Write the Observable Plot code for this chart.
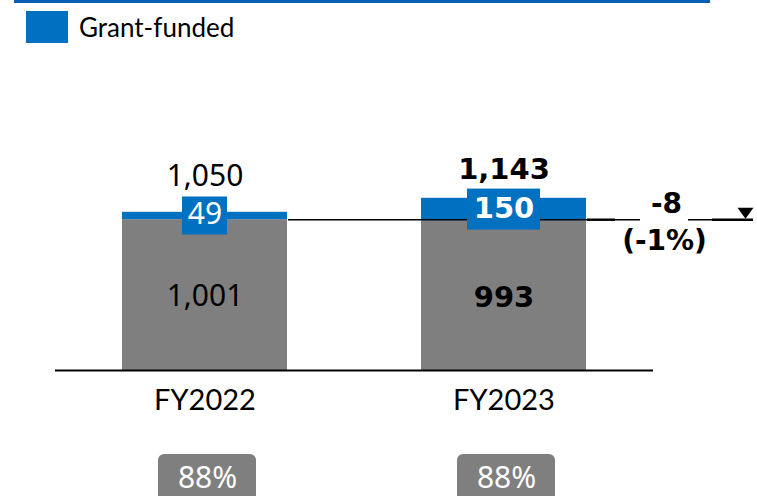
<!DOCTYPE html>
<html>
<head>
<meta charset="utf-8">
<script src="https://cdn.jsdelivr.net/npm/d3@7"></script>
<script src="https://cdn.jsdelivr.net/npm/@observablehq/plot@0.6"></script>
<style>
  body { margin: 0; background: #fff; }
  #wrap { position: relative; width: 757px; height: 496px; overflow: hidden; background: #fff; }
  #header { position: relative; height: 50px; }
  #topline { position: absolute; left: 14px; top: 0; width: 696px; height: 3px; background: #0a5fb4; }
  #legend { position: absolute; left: 26px; top: 11px; height: 32px; display: flex; align-items: center;
            font-family: Lato, sans-serif; font-size: 26px; color: #000; }
  #legend .sw { display: inline-block; width: 42px; height: 32px; background: #0070C0; margin-right: 11px; }
  #chart svg { display: block; }
</style>
</head>
<body>
<div id="wrap">
  <div id="header">
    <div id="topline"></div>
    <div id="legend"><span class="sw"></span><span>Grant-funded</span></div>
  </div>
  <div id="chart"></div>
</div>
<script>
// ---- data ----
const categories = ["FY2022", "FY2023"];
const nonGrant = [1001, 993];
const grant = [49, 150];
const totals = [1050, 1143];
const shares = ["88%", "88%"];

// ---- derived ----
const data = categories.map((c, i) => ({
  cat: c, nonGrant: nonGrant[i], grant: grant[i], total: totals[i], share: shares[i], bold: i === 1
}));
const change = nonGrant[1] - nonGrant[0];
const changePct = Math.round(change / nonGrant[0] * 100);
const fmt = d3.format(",");
const signed = v => (v < 0 ? "-" : "+") + fmt(Math.abs(v));

const numFont = "'Noto Sans', 'Open Sans', sans-serif";
const boldFont = "'DejaVu Sans', sans-serif";
const catFont = "Lato, sans-serif";
const BLUE = "#0070C0", GRAY = "#7F7F7F";

// down-pointing triangle (16 wide, 11 tall) whose tip sits on the anchor point
const triDown = {
  draw(ctx) {
    ctx.moveTo(0, 0);
    ctx.lineTo(-8, -11);
    ctx.lineTo(8, -11);
    ctx.closePath();
  }
};

const bw = 166;
const perDatum = data.flatMap(d => {
  const w = d.bold ? 74 : 46;
  const h = d.bold ? 41 : 38;
  const font = d.bold ? boldFont : numFont;
  const size = d.bold ? 29 : 30;
  const weight = d.bold ? "bold" : "normal";
  const mid = (d.nonGrant + d.total) / 2;
  return [
    Plot.barY([d], {x: "cat", y1: () => mid, y2: () => mid, fill: BLUE,
      insetTop: -h / 2, insetBottom: -h / 2, insetLeft: (bw - w) / 2, insetRight: (bw - w) / 2}),
    Plot.text([d], {x: "cat", y: () => mid, text: dd => fmt(dd.grant), fill: "white",
      fontSize: size, fontWeight: weight, fontFamily: font, lineAnchor: "bottom", dy: 8.5}),
    Plot.text([d], {x: "cat", y: () => mid, text: dd => fmt(dd.total), fill: "black",
      fontSize: size, fontWeight: weight, fontFamily: font, lineAnchor: "bottom", dy: d.bold ? -31 : -29.5}),
    Plot.text([d], {x: "cat", y: dd => dd.nonGrant / 2, text: dd => fmt(dd.nonGrant), fill: "black",
      fontSize: size, fontWeight: weight, fontFamily: font, lineAnchor: "bottom", dy: 11})
  ];
});

const plot = Plot.plot({
  width: 757,
  height: 446,
  marginLeft: 55,
  marginRight: 4,
  marginTop: 94,
  marginBottom: 126,
  x: {domain: categories, paddingInner: 0.4467, paddingOuter: 0.3867, align: 0.289, axis: null},
  y: {domain: [0, 1500], axis: null},
  style: {fontFamily: numFont, background: "white", color: "black"},
  marks: [
    Plot.barY(data, {x: "cat", y1: 0, y2: "nonGrant", fill: GRAY}),
    Plot.barY(data, {x: "cat", y1: "nonGrant", y2: "total", fill: BLUE}),
    Plot.ruleY([0], {stroke: "black", strokeWidth: 2, insetRight: 100}),
    Plot.ruleY([nonGrant[0]], {stroke: "black", strokeWidth: 1.6, insetLeft: 233, insetRight: 113}),
    Plot.ruleY([nonGrant[0]], {stroke: "black", strokeWidth: 2.4, insetLeft: 532, insetRight: 138}),
    Plot.ruleY([nonGrant[0]], {stroke: "black", strokeWidth: 1.6, insetLeft: 633}),
    Plot.ruleY([nonGrant[0]], {stroke: "black", strokeWidth: 2.4, insetLeft: 657}),
    Plot.dot([nonGrant[0]], {y: d => d, frameAnchor: "right", dx: -8, dy: -1, symbol: triDown,
      r: 8, fill: "black", stroke: "none"}),
    Plot.text([change], {y: () => nonGrant[0], text: d => signed(d), frameAnchor: "right", textAnchor: "middle",
      dx: -87, dy: -7, lineAnchor: "bottom", fontWeight: "bold", fontSize: 28, fontFamily: boldFont, fill: "black"}),
    Plot.text([changePct], {y: () => nonGrant[0], text: d => `(${d < 0 ? "-" : "+"}${Math.abs(d)}%)`, frameAnchor: "right",
      textAnchor: "middle", dx: -89, dy: 30, lineAnchor: "bottom", fontWeight: "bold", fontSize: 28, fontFamily: boldFont, fill: "black"}),
    ...perDatum,
    Plot.text(data, {x: "cat", y: () => 0, text: "cat", lineAnchor: "bottom", dy: 39, fontSize: 29,
      fontFamily: catFont, fill: "black"}),
    Plot.barY(data, {x: "cat", y1: () => 0, y2: () => 0, fill: GRAY, rx: 6,
      insetTop: 84, insetBottom: -134, insetLeft: 36, insetRight: 31}),
    Plot.text(data, {x: "cat", y: () => 0, text: "share", fill: "white", lineAnchor: "bottom",
      dy: 117, dx: 2.5, fontSize: 30, fontFamily: numFont})
  ]
});
document.getElementById("chart").appendChild(plot);
</script>
</body>
</html>
